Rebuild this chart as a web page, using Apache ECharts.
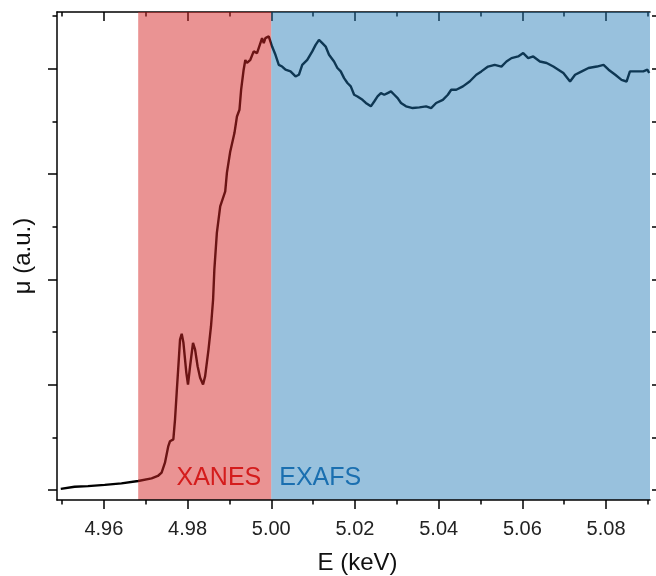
<!DOCTYPE html>
<html>
<head>
<meta charset="utf-8">
<script src="https://cdn.jsdelivr.net/npm/echarts@6/dist/echarts.min.js"></script>
<style>
  html, body { margin: 0; padding: 0; background: #fff; }
  #chart { width: 656px; height: 576px; }
</style>
</head>
<body>
<div id="chart"></div>
<script>
// ---- data ----
const energy = [
  4.9497, 4.9500, 4.9530, 4.9562, 4.9602, 4.9642, 4.9682, 4.9714, 4.9729, 4.9738,
  4.9746, 4.9754, 4.9758, 4.9762, 4.9766, 4.9770, 4.9774, 4.9778, 4.9782, 4.9786,
  4.9790, 4.9797, 4.9801, 4.9806, 4.9813, 4.9818, 4.9824, 4.9830, 4.9837, 4.9842,
  4.9850, 4.9856, 4.9861, 4.9864, 4.9870, 4.9878, 4.9890, 4.9894, 4.9902, 4.9906,
  4.9912, 4.9918, 4.9924, 4.9928, 4.9934, 4.9938, 4.9942, 4.9950, 4.9958, 4.9962,
  4.9966, 4.9974, 4.9978, 4.9982, 4.9986, 4.9994, 4.9998, 5.0002, 5.0010, 5.0018,
  5.0026, 5.0034, 5.0046, 5.0058, 5.0066, 5.0074, 5.0086, 5.0098, 5.0106, 5.0114,
  5.0122, 5.0130, 5.0138, 5.0150, 5.0158, 5.0166, 5.0174, 5.0182, 5.0190, 5.0198,
  5.0206, 5.0218, 5.0226, 5.0238, 5.0246, 5.0254, 5.0262, 5.0270, 5.0278, 5.0286,
  5.0294, 5.0302, 5.0310, 5.0322, 5.0338, 5.0354, 5.0370, 5.0382, 5.0394, 5.0410,
  5.0422, 5.0430, 5.0442, 5.0458, 5.0474, 5.0490, 5.0502, 5.0518, 5.0534, 5.0550,
  5.0562, 5.0574, 5.0590, 5.0602, 5.0614, 5.0626, 5.0642, 5.0658, 5.0674, 5.0686,
  5.0698, 5.0714, 5.0726, 5.0742, 5.0758, 5.0778, 5.0794, 5.0806, 5.0822, 5.0837,
  5.0849, 5.0857, 5.0873, 5.0889, 5.0899, 5.0903
];
const mu = [
  0.006, 0.015, 0.016, 0.019, 0.025, 0.032, 0.043, 0.056, 0.067, 0.083,
  0.130, 0.209, 0.232, 0.225, 0.241, 0.335, 0.463, 0.588, 0.715, 0.742,
  0.701, 0.558, 0.501, 0.588, 0.699, 0.667, 0.588, 0.533, 0.501, 0.541,
  0.667, 0.778, 0.905, 1.047, 1.221, 1.347, 1.418, 1.506, 1.608, 1.616,
  1.695, 1.774, 1.806, 1.901, 1.996, 2.042, 2.028, 2.043, 2.083, 2.091,
  2.075, 2.122, 2.146, 2.122, 2.146, 2.154, 2.146, 2.106, 2.067, 2.019,
  2.011, 1.996, 1.988, 1.964, 1.972, 2.019, 2.043, 2.083, 2.114, 2.138,
  2.122, 2.106, 2.067, 2.035, 2.004, 1.988, 1.956, 1.933, 1.917, 1.877,
  1.869, 1.853, 1.838, 1.822, 1.845, 1.869, 1.885, 1.877, 1.885, 1.893,
  1.877, 1.861, 1.838, 1.822, 1.814, 1.817, 1.822, 1.814, 1.838, 1.853,
  1.877, 1.901, 1.901, 1.917, 1.940, 1.972, 1.988, 2.011, 2.019, 2.011,
  2.035, 2.051, 2.059, 2.075, 2.051, 2.059, 2.035, 2.028, 2.011, 1.996,
  1.980, 1.940, 1.972, 1.988, 2.004, 2.011, 2.019, 1.996, 1.972, 1.948,
  1.940, 1.988, 1.988, 1.988, 1.996, 1.980
];
const xMajorTicks = [4.96, 4.98, 5.00, 5.02, 5.04, 5.06, 5.08];
const xMinorTicks = [4.95, 4.97, 4.99, 5.01, 5.03, 5.05, 5.07, 5.09];
const yMajorTicks = [0, 0.5, 1.0, 1.5, 2.0];
const yMinorTicks = [0.25, 0.75, 1.25, 1.75, 2.25];
const regionNames = ['XANES', 'EXAFS'];
const regionBounds = [[4.9682, 5.0], [5.0, 5.0905]];
const xRange = [4.9488, 5.0905];
const yRange = [-0.047, 2.27];

// ---- chart ----
const FONT = 'Liberation Sans, Arial, Helvetica, sans-serif';
const chart = echarts.init(document.getElementById('chart'), null, { renderer: 'canvas' });

function xAx(position, ticks, len, inside, showLine, showLabel, extra) {
  return Object.assign({
    type: 'value', position: position, min: xRange[0], max: xRange[1],
    axisLine: { show: showLine, onZero: false, lineStyle: { color: '#000', width: 1.5 } },
    axisTick: { show: true, inside: inside, length: len, customValues: ticks,
      lineStyle: { color: '#000', width: 1.5 } },
    axisLabel: { show: showLabel, customValues: ticks, margin: 19, fontSize: 20,
      color: '#222', fontFamily: FONT, formatter: v => v.toFixed(2) },
    splitLine: { show: false }
  }, extra || {});
}
function yAx(position, ticks, len, showLine, extra) {
  return Object.assign({
    type: 'value', position: position, min: yRange[0], max: yRange[1],
    axisLine: { show: showLine, onZero: false, lineStyle: { color: '#000', width: 1.5 } },
    axisTick: { show: true, inside: false, length: len, customValues: ticks,
      lineStyle: { color: '#000', width: 1.5 } },
    axisLabel: { show: false, customValues: ticks },
    splitLine: { show: false }
  }, extra || {});
}

const lineData = energy.map((e, i) => [e, mu[i]]);

const option = {
  backgroundColor: '#fff',
  animation: false,
  grid: { left: 57, top: 12, width: 593, height: 488, outerBoundsMode: 'none', containLabel: false },
  xAxis: [
    xAx('bottom', xMajorTicks, 9, false, true, true, {
      z: 20, name: 'E (keV)', nameLocation: 'middle', nameGap: 51,
      nameTextStyle: { fontSize: 24, color: '#111', fontFamily: FONT, padding: [0, 0, 0, 8] }
    }),
    xAx('bottom', xMinorTicks, 4.5, false, false, false, { z: 20 }),
    xAx('top', xMajorTicks, 9, true, true, false),
    xAx('top', xMinorTicks, 4.5, true, false, false)
  ],
  yAxis: [
    yAx('left', yMajorTicks, 9, true, {
      z: 20, name: 'μ (a.u.)', nameLocation: 'middle', nameGap: 22,
      nameTextStyle: { fontSize: 24, color: '#111', fontFamily: FONT }
    }),
    yAx('left', yMinorTicks, 4.5, false, { z: 20 }),
    yAx('right', yMajorTicks, 9, false, { offset: 2 }),
    yAx('right', yMinorTicks, 4.5, false, { offset: 2 })
  ],
  series: [
    {
      type: 'line', xAxisIndex: 0, yAxisIndex: 0, z: 2,
      data: lineData, showSymbol: false, symbol: 'none',
      lineStyle: { color: '#000', width: 2.4 }, silent: true
    },
    {
      type: 'line', xAxisIndex: 0, yAxisIndex: 0, z: 10,
      data: lineData, showSymbol: false, symbol: 'none',
      lineStyle: { width: 0, opacity: 0 }, silent: true,
      markArea: {
        silent: true, z: 10,
        data: [
          [
            { xAxis: regionBounds[0][0], itemStyle: { color: 'rgba(214,39,40,0.5)' },
              label: { show: true, formatter: regionNames[0], position: 'insideBottomRight',
                distance: 0, offset: [-10, -9], color: '#d41c1c', fontSize: 25, fontFamily: FONT } },
            { xAxis: regionBounds[0][1] }
          ],
          [
            { xAxis: regionBounds[1][0], itemStyle: { color: 'rgba(31,119,180,0.46)' },
              label: { show: true, formatter: regionNames[1], position: 'insideBottomLeft',
                distance: 0, offset: [8, -9], color: '#1a6fb0', fontSize: 25, fontFamily: FONT } },
            { xAxis: regionBounds[1][1] }
          ]
        ]
      }
    }
  ]
};
chart.setOption(option);
</script>
</body>
</html>
